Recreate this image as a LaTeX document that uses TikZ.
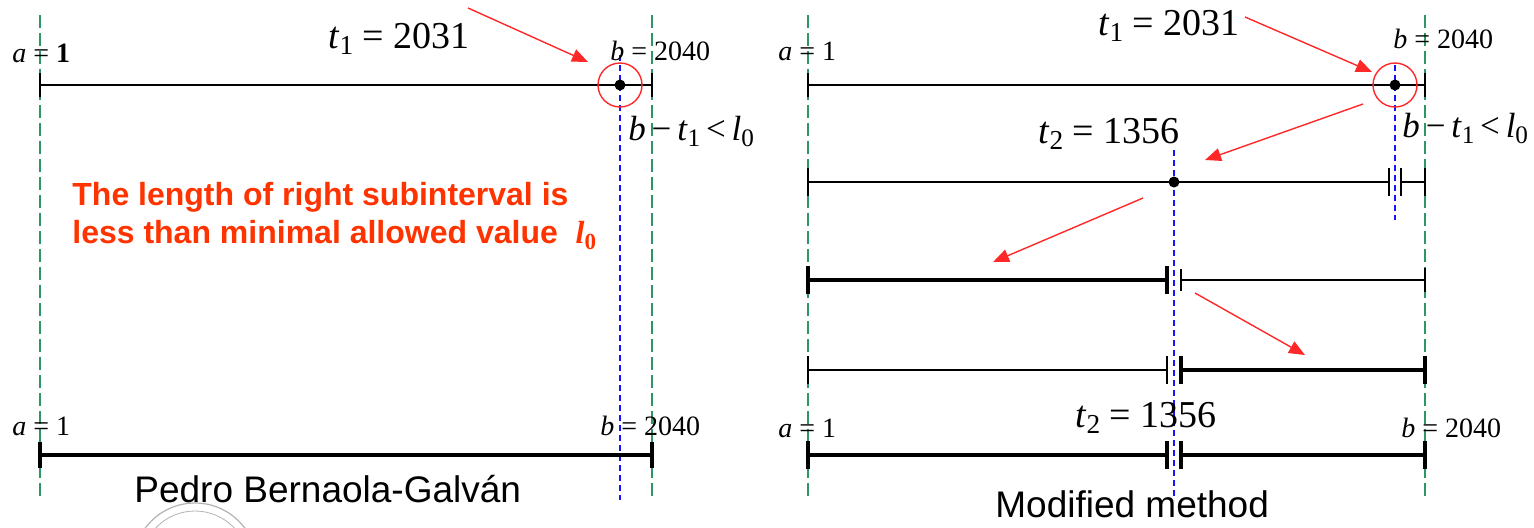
\documentclass[tikz,border=0pt]{standalone}
\usepackage{graphicx}
\usepackage{fontspec}
\setmainfont{Liberation Serif}
\newfontfamily\arialfont{Liberation Sans}
\usetikzlibrary{arrows.meta}
\definecolor{gguide}{RGB}{46,150,100}
\definecolor{bguide}{RGB}{20,20,255}
\definecolor{rarrow}{RGB}{255,40,40}
\definecolor{rtext}{RGB}{255,51,0}
\newcommand{\lsub}[1]{\raisebox{-0.4ex}{\scalebox{0.72}{#1}}}

\begin{document}
\begin{tikzpicture}[x=0.5pt, y=-0.5pt,
        every node/.style={inner sep=0pt},
        lab/.style={font=\fontsize{14pt}{14pt}\selectfont, anchor=base west},
        big/.style={font=\fontsize{19pt}{19pt}\selectfont, anchor=base west},
        cond/.style={font=\fontsize{17.5pt}{17.5pt}\selectfont, anchor=base west},
        caption/.style={font=\arialfont\fontsize{18.5pt}{18.5pt}\selectfont, anchor=base west},
        note/.style={font=\arialfont\bfseries\fontsize{16pt}{16pt}\selectfont, text=rtext, anchor=base west},
        gline/.style={gguide, line width=0.75pt, dash pattern=on 6.5pt off 2.5pt},
        bline/.style={bguide, line width=0.75pt, dash pattern=on 3pt off 2pt},
        seg/.style={line width=0.8pt},
        segb/.style={line width=1.7pt},
        arr/.style={rarrow, line width=0.7pt, -{Triangle[length=8pt, width=6.5pt]}},
        ring/.style={rarrow, line width=0.7pt},
        pt/.style={circle, fill=black, minimum size=5.5pt}]
      \useasboundingbox (0,0) rectangle (1534,527);

      % faint seal, cut by the page edge
      \begin{scope}
        \clip (0,0) rectangle (1534,527);
        \draw[black!30, line width=0.6pt] (195,565) circle[radius=31pt];
        \draw[black!30, line width=0.4pt] (195,565) circle[radius=27pt];
      \end{scope}

      % guide lines
      \foreach \gx in {40,652,808,1425} {
        \draw[gline] (\gx,15) -- (\gx,500);
      }
      \draw[bline] (620,55) -- (620,500);
      \draw[bline] (1395,65) -- (1395,220);
      \draw[bline] (1174,150) -- (1174,500);

      % left panel
      \coordinate (la1) at (40,85);
      \coordinate (lb1) at (652,85);
      \coordinate (la2) at (40,455);
      \coordinate (lb2) at (652,455);
      \node[pt] (lt1) at (620,85) {};
      \draw[seg] (la1) -- (lb1);
      \draw[segb] (la2) -- (lb2);
      \foreach \p in {la1,lb1} {
        \draw[seg] (\p) ++(0,-12) -- ++(0,24);
      }
      \foreach \p in {la2,lb2} {
        \draw[segb] (\p) ++(0,-13) -- ++(0,26);
      }
      \draw[ring] (lt1) circle[radius=11pt];

      \node[lab] (laA) at (12,62) {\textit{a} = \textbf{1}};
      \node[lab] (lbB) at (610,60) {\textit{b} = 2040};
      \node[big] (lt1lab) at (328,48) {\textit{t}\lsub{1} = 2031};
      \node[cond] (lcond) at (628,140) {\textit{b}\,−\,\textit{t}\lsub{1}\,<\,\textit{l}\lsub{0}};
      \node[note] (note1) at (72,205) {The length of right subinterval is};
      \node[note] (note2) at (72,243) {less than minimal allowed value\ \ {\rmfamily\bfseries\itshape l}\lsub{\rmfamily\bfseries 0}};
      \node[lab] (laA2) at (12,435) {\textit{a} = 1};
      \node[lab] (lbB2) at (600,435) {\textit{b} = 2040};
      \node[caption] (lname) at (134,502) {Pedro Bernaola-Galván};

      \coordinate (ar1s) at (468,8);
      \coordinate (ar1e) at (588,62);
      \draw[arr] (ar1s) -- (ar1e);

      % right panel, row 1
      \coordinate (ra1) at (808,85);
      \coordinate (rb1) at (1425,85);
      \node[pt] (rt1) at (1395,85) {};
      \draw[seg] (ra1) -- (rb1);
      \foreach \p in {ra1,rb1} {
        \draw[seg] (\p) ++(0,-12) -- ++(0,24);
      }
      \draw[ring] (rt1) circle[radius=11pt];

      % row 2
      \coordinate (ra2) at (808,182);
      \coordinate (rm2) at (1389,182);
      \coordinate (rn2) at (1401,182);
      \coordinate (rb2) at (1425,182);
      \node[pt] (rt2) at (1174,182) {};
      \draw[seg] (ra2) -- (rm2);
      \draw[seg] (rn2) -- (rb2);
      \foreach \p in {ra2,rm2,rn2,rb2} {
        \draw[seg] (\p) ++(0,-14) -- ++(0,28);
      }

      % row 3
      \coordinate (ra3) at (808,280);
      \coordinate (rm3) at (1167,280);
      \coordinate (rn3) at (1181,280);
      \coordinate (rb3) at (1425,280);
      \draw[segb] (ra3) -- (rm3);
      \draw[seg] (rn3) -- (rb3);
      \foreach \p in {ra3,rm3} {
        \draw[segb] (\p) ++(0,-14) -- ++(0,28);
      }
      \draw[seg] (rn3) ++(0,-11) -- ++(0,22);
      \draw[seg] (rb3) ++(0,-12) -- ++(0,24);

      % row 4
      \coordinate (ra4) at (808,370);
      \coordinate (rm4) at (1167,370);
      \coordinate (rn4) at (1181,370);
      \coordinate (rb4) at (1425,370);
      \draw[seg] (ra4) -- (rm4);
      \draw[segb] (rn4) -- (rb4);
      \foreach \p in {ra4,rm4} {
        \draw[seg] (\p) ++(0,-14) -- ++(0,28);
      }
      \foreach \p in {rn4,rb4} {
        \draw[segb] (\p) ++(0,-14) -- ++(0,28);
      }

      % row 5
      \coordinate (ra5) at (808,455);
      \coordinate (rm5) at (1167,455);
      \coordinate (rn5) at (1181,455);
      \coordinate (rb5) at (1425,455);
      \draw[segb] (ra5) -- (rm5);
      \draw[segb] (rn5) -- (rb5);
      \foreach \p in {ra5,rm5,rn5,rb5} {
        \draw[segb] (\p) ++(0,-14) -- ++(0,28);
      }

      \node[lab] (raA) at (778,60) {\textit{a} = 1};
      \node[lab] (rbB) at (1393,48) {\textit{b} = 2040};
      \node[big] (rt1lab) at (1098,35) {\textit{t}\lsub{1} = 2031};
      \node[cond] (rcond) at (1402,137) {\textit{b}\,−\,\textit{t}\lsub{1}\,<\,\textit{l}\lsub{0}};
      \node[big] (rt2lab) at (1038,143) {\textit{t}\lsub{2} = 1356};
      \node[lab] (raA2) at (778,437) {\textit{a} = 1};
      \node[big] (rt2lab2) at (1075,427) {\textit{t}\lsub{2} = 1356};
      \node[lab] (rbB2) at (1401,437) {\textit{b} = 2040};
      \node[caption] (rname) at (995,517) {Modified method};

      % red arrows
      \coordinate (ar2s) at (1245,17);
      \coordinate (ar2e) at (1372,72);
      \coordinate (ar3s) at (1363,104);
      \coordinate (ar3e) at (1205,160);
      \coordinate (ar4s) at (1143,198);
      \coordinate (ar4e) at (993,262);
      \coordinate (ar5s) at (1195,293);
      \coordinate (ar5e) at (1305,355);
      \foreach \s/\e in {ar2s/ar2e, ar3s/ar3e, ar4s/ar4e, ar5s/ar5e} {
        \draw[arr] (\s) -- (\e);
      }
    \end{tikzpicture}
\end{document}
